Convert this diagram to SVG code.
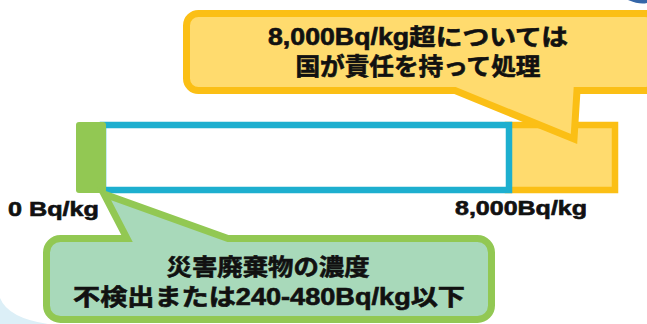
<svg xmlns="http://www.w3.org/2000/svg" width="647" height="324" viewBox="0 0 647 324">
  <style>
    .t { font-family: "Liberation Sans", "Noto Sans CJK JP", sans-serif; font-weight: bold; fill: #111; stroke: #111; stroke-width: 0.6; }
    .c { text-anchor: middle; }
    .orange { fill: #FFDB6E; stroke: #FBBF15; stroke-width: 7; stroke-linejoin: miter; stroke-miterlimit: 10; }
    .green { fill: #A8D9BA; stroke: #92C853; stroke-width: 7; stroke-linejoin: miter; stroke-miterlimit: 10; }
  </style>
  <rect width="647" height="324" fill="#FFFFFF"/>
  <g id="background">
    <path d="M0,298 Q8,318 48,324 L0,324 Z" fill="#DCEFF7"/>
    <path d="M628,0 Q640,5 647,3 L647,0 Z" fill="#3566A8"/>
  </g>
  <g id="bar">
    <rect x="508" y="125" width="107" height="65" fill="#FFDB6E" stroke="#FBBF15" stroke-width="6.5"/>
    <rect x="103" y="125" width="406" height="65" fill="#FFFFFF" stroke="#1DAFCF" stroke-width="6.5"/>
    <rect x="76" y="122" width="30" height="71" rx="3" fill="#92C853"/>
  </g>
  <g id="connectors"/>
  <g id="callout-national">
    <path class="orange" d="M199,13.5 H645 A14 14 0 0 1 659,27.5 V76.5 A14 14 0 0 1 645,90.5 H577 L574,139 L455,90.5 H199 A12 12 0 0 1 186.5,78.5 V25.5 A12 12 0 0 1 199,13.5 Z"/>
    <text class="t c" x="418" y="45" font-size="23" textLength="300" lengthAdjust="spacingAndGlyphs">8,000Bq/kg超については</text>
    <text class="t c" x="418" y="75" font-size="24" textLength="245" lengthAdjust="spacingAndGlyphs">国が責任を持って処理</text>
  </g>
  <g id="callout-waste">
    <path class="green" d="M60.5,238.5 H127 L104,194 L228,238.5 H477.5 A14 14 0 0 1 491.5,252.5 V305.5 A14 14 0 0 1 477.5,319.5 H60.5 A14 14 0 0 1 46.5,305.5 V252.5 A14 14 0 0 1 60.5,238.5 Z"/>
    <text class="t c" x="268" y="275" font-size="23" textLength="203" lengthAdjust="spacingAndGlyphs">災害廃棄物の濃度</text>
    <text class="t c" x="269" y="305" font-size="23" textLength="392" lengthAdjust="spacingAndGlyphs">不検出または240-480Bq/kg以下</text>
  </g>
  <g id="label-zero">
    <text class="t" x="8" y="216" font-size="20" textLength="91" lengthAdjust="spacingAndGlyphs">0 Bq/kg</text>
  </g>
  <g id="label-max">
    <text class="t" x="455" y="215" font-size="20" textLength="132" lengthAdjust="spacingAndGlyphs">8,000Bq/kg</text>
  </g>
</svg>
